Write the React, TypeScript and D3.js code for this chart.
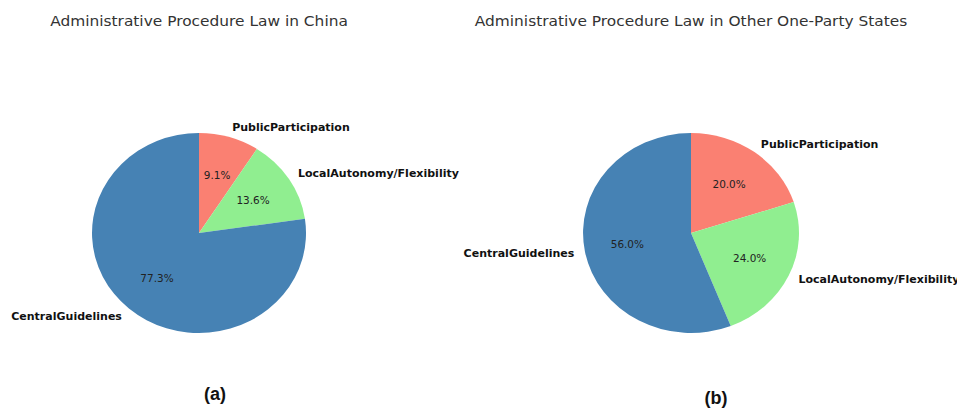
import React from "react";
import * as d3 from "d3";

const categories = ["PublicParticipation", "LocalAutonomy/Flexibility", "CentralGuidelines"];
const chinaValues = [2, 3, 17];
const otherValues = [5, 6, 14];
const colors = ["#fa8072", "#90ee90", "#4682b4"];
const titles = ["Administrative Procedure Law in China", "Administrative Procedure Law in Other One-Party States"];
const panelLabels = ["(a)", "(b)"];

const W = 957;
const H = 410;
const SX = 1.07;

type PieProps = { values: number[]; cx: number; cy: number; rx: number; ry: number; title: string; panel: string; px: number; py: number };

function SText({ x, y, anchor, size, weight, fill, family, children }: any) {
  return (
    <text transform={`translate(${x},${y}) scale(${SX},1)`} dy="0.35em" textAnchor={anchor} fontFamily={family || "DejaVu Sans"} fontWeight={weight || "normal"} fontSize={size} fill={fill}>{children}</text>
  );
}

function Pie({ values, cx, cy, rx, ry, title, panel, px, py }: PieProps) {
  const total = d3.sum(values);
  const pie = d3.pie<number>().sort(null).startAngle(0).endAngle(2 * Math.PI);
  const arcs = pie(values);
  const arc = d3.arc<d3.PieArcDatum<number>>().innerRadius(0).outerRadius(1);
  const pos = (a: number, f: number) => [cx + rx * f * Math.sin(a), cy - ry * f * Math.cos(a)];
  return (
    <g>
      <SText x={cx} y={21} anchor="middle" size={14.4} fill="#333">{title}</SText>
      <g transform={`translate(${cx},${cy}) scale(${rx},${ry})`}>
        {arcs.map((a, i) => (
          <path key={i} d={arc(a) || ""} fill={colors[i]} />
        ))}
      </g>
      {arcs.map((a, i) => {
        const mid = (a.startAngle + a.endAngle) / 2;
        const [lx, ly] = pos(mid, 1.1);
        const [tx, ty] = pos(mid, 0.6);
        return (
          <g key={i}>
            <SText x={lx} y={ly} anchor={Math.sin(mid) >= 0 ? "start" : "end"} weight="bold" size={10.3} fill="#111">{categories[i]}</SText>
            <SText x={tx} y={ty} anchor="middle" size={9.8} fill="#222">{((values[i] / total) * 100).toFixed(1) + "%"}</SText>
          </g>
        );
      })}
      <text x={px} y={py} dy="0.35em" textAnchor="middle" fontFamily="Liberation Sans" fontWeight="bold" fontSize={18} fill="#111">{panel}</text>
    </g>
  );
}

export default function App() {
  return (
    <svg width={W} height={H} style={{ position: "absolute", left: 0, top: 0, background: "#fff" }}>
      <rect width={W} height={H} fill="#fff" />
      <Pie values={chinaValues} cx={199} cy={233} rx={107} ry={100} title={titles[0]} panel={panelLabels[0]} px={215} py={394} />
      <Pie values={otherValues} cx={691} cy={233} rx={108} ry={100} title={titles[1]} panel={panelLabels[1]} px={716} py={398} />
    </svg>
  );
}
